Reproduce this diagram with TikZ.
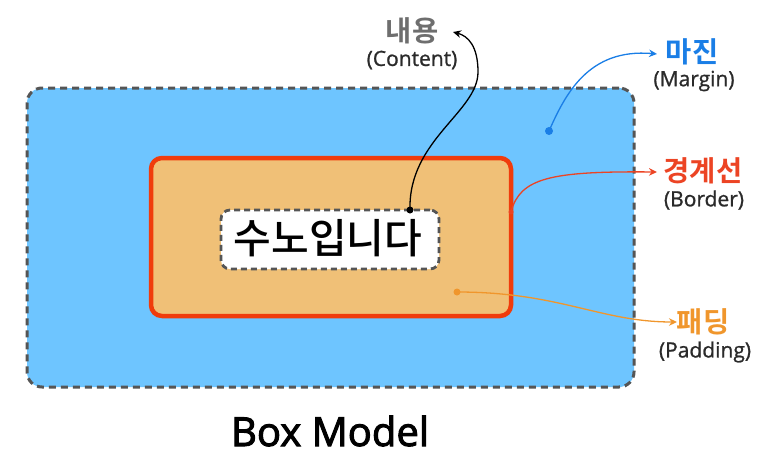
\documentclass[tikz,border=0pt]{standalone}
\usepackage{fontspec}
\setmainfont{Noto Sans CJK KR}
\newfontfamily\krm{Noto Sans CJK KR Medium}
\newfontfamily\krb{Noto Sans CJK KR Bold}
\newfontfamily\lat[FakeBold=1]{Open Sans}
\newfontfamily\latt[FakeBold=2.5]{Open Sans}
\usetikzlibrary{arrows.meta}
\definecolor{mfill}{HTML}{6EC5FF}
\definecolor{bfill}{HTML}{F0C077}
\definecolor{bline}{HTML}{F03C0C}
\definecolor{dline}{HTML}{555555}
\definecolor{mblue}{HTML}{1A7EE6}
\definecolor{bred}{HTML}{EC4424}
\definecolor{porange}{HTML}{F0962C}
\definecolor{cgray}{HTML}{6E6E6E}
\definecolor{sub}{HTML}{2A2A2A}
\tikzset{
  boxbase/.style={inner sep=0pt, outer sep=0pt},
  marginbox/.style={boxbase, draw=dline, fill=mfill, line width=3pt, dash pattern=on 7pt off 5pt, rounded corners=15pt},
  borderbox/.style={boxbase, draw=bline, fill=bfill, line width=4.5pt, rounded corners=11pt},
  contentbox/.style={boxbase, draw=dline, fill=white, line width=2.8pt, dash pattern=on 6pt off 4pt, rounded corners=9pt},
  title/.style={font=\krb\fontsize{28.5}{30}\selectfont, inner sep=0pt},
  subtitle/.style={font=\lat\fontsize{21}{23}\selectfont, text=sub, inner sep=0pt},
  callout/.style={line width=1.3pt, -{Stealth[length=8pt,width=7.5pt]}},
  dotpt/.style={circle, inner sep=0pt, minimum size=8pt},
}
\begin{document}
\begin{tikzpicture}[x=1pt,y=-1pt]
\useasboundingbox (0,0) rectangle (768,455);
% boxes
\node[marginbox, minimum width=607pt, minimum height=299pt] (margin) at (330.5,237.5) {};
\node[borderbox, minimum width=360pt, minimum height=158pt] (border) at (331,237) {};
\node[contentbox, minimum width=218pt, minimum height=59pt] (content) at (330,239.5) {};
\node[font=\krm\fontsize{41}{44}\selectfont, inner sep=0pt] (ctext) at (328,238) {수노입니다};
% labels
\node[title, text=cgray] (lcontent) at (412,31) {내용};
\node[subtitle] (lcontent2) at (412,60) {(Content)};
\node[title, text=mblue] (lmargin) at (692,52) {마진};
\node[subtitle] (lmargin2) at (694,81) {(Margin)};
\node[title, text=bred] (lborder) at (703,171) {경계선};
\node[subtitle] (lborder2) at (704,200) {(Border)};
\node[title, text=porange] (lpadding) at (703,322) {패딩};
\node[subtitle] (lpadding2) at (705,352) {(Padding)};
\node[font=\latt\fontsize{40}{42}\selectfont, inner sep=0pt, anchor=base] (ltitle) at (330,446) {Box Model};
% anchor points
\node[dotpt, fill=black, minimum size=7pt] (dc) at (410,210) {};
\node[dotpt, fill=mblue] (dm) at (549,131) {};
\node[dotpt, fill=bred, minimum size=5pt] (db) at (511,212) {};
\node[dotpt, fill=porange, minimum size=7pt] (dp) at (457,292) {};
\coordinate (em) at (657,54);
\coordinate (eb) at (657,172);
\coordinate (ep) at (677,322);
\coordinate (ec) at (453,32);
% connectors
\draw[callout, black] (dc.center) .. controls (408,140) and (478,112) .. (478,72) .. controls (478,46) and (468,36) .. (ec);
\draw[callout, mblue] (dm.center) .. controls (565,95) and (588,48) .. (em);
\draw[callout, bred] (db.center) .. controls (520,178) and (550,171) .. (eb);
\draw[callout, porange] (dp.center) .. controls (560,292) and (600,322) .. (ep);
\end{tikzpicture}
\end{document}
